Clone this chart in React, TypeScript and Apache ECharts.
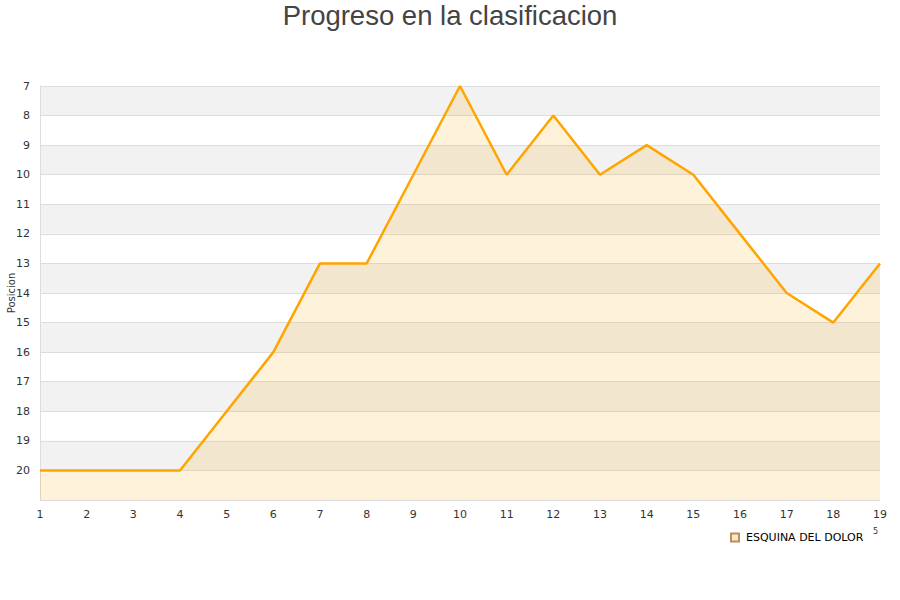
import React, { useEffect, useRef } from "react";
import * as echarts from "echarts";

const jornadas = ["1","2","3","4","5","6","7","8","9","10","11","12","13","14","15","16","17","18","19"];
const posiciones = [20, 20, 20, 20, 18, 16, 13, 13, 10, 7, 10, 8, 10, 9, 10, 12, 14, 15, 13];
const teamName = "ESQUINA DEL DOLOR";
const titleText = "Progreso en la clasificacion";

export default function App() {
  const ref = useRef<HTMLDivElement>(null);
  useEffect(() => {
    const chart = echarts.init(ref.current!, null, { renderer: "svg" });
    chart.setOption({
      animation: false,
      backgroundColor: "#ffffff",
      title: {
        text: titleText,
        left: "center",
        top: -4,
        textStyle: { fontFamily: "Liberation Sans", fontSize: 27.5, fontWeight: "normal", color: "#444444" },
      },
      grid: { left: 40, right: 20, top: 86, bottom: 100, outerBoundsMode: "none", containLabel: false },
      legend: {
        data: [{ name: teamName, icon: "rect" }],
        left: 725,
        top: 527,
        itemWidth: 8,
        itemHeight: 8,
        itemGap: 6,
        textStyle: { fontFamily: "DejaVu Sans", fontSize: 11, color: "#000", padding: [0, 0, 0, 2] },
      },
      xAxis: {
        type: "category",
        data: jornadas,
        boundaryGap: false,
        axisLine: { show: false },
        axisTick: { show: false },
        axisLabel: { fontFamily: "DejaVu Sans", fontSize: 11, color: "#333", margin: 9 },
        splitLine: { show: false },
      },
      yAxis: {
        type: "value",
        inverse: true,
        min: 7,
        max: 21,
        interval: 1,
        name: "Posicion",
        nameLocation: "middle",
        nameGap: 24,
        nameMoveOverlap: false,
        nameRotate: 90,
        nameTextStyle: { fontFamily: "DejaVu Sans", fontSize: 10, color: "#333" },
        axisLine: { show: true, lineStyle: { color: "#dddddd" } },
        axisTick: { show: false },
        axisLabel: {
          fontFamily: "DejaVu Sans",
          fontSize: 11,
          color: "#333",
          margin: 10,
          formatter: (v: number) => (v === 21 ? "" : String(v)),
        },
        splitLine: { show: true, lineStyle: { color: "#dddddd", width: 1 } },
        splitArea: { show: true, areaStyle: { color: ["#f2f2f2", "#ffffff"] } },
      },
      series: [
        {
          name: teamName,
          type: "line",
          data: posiciones,
          symbol: "none",
          lineStyle: { color: "#FFA500", width: 2.5 },
          itemStyle: { color: "#FFE8C0", borderColor: "#B89060", borderWidth: 1 },
          areaStyle: { color: "rgba(255,165,0,0.2)", origin: "end" },
        },
      ],
      graphic: [
        { type: "text", left: 873, top: 527, style: { text: "5", fontFamily: "DejaVu Sans", fontSize: 8, fill: "#333" } },
      ],
    });
    return () => chart.dispose();
  }, []);
  return <div ref={ref} style={{ position: "absolute", left: 0, top: 0, width: 900, height: 600 }} />;
}
